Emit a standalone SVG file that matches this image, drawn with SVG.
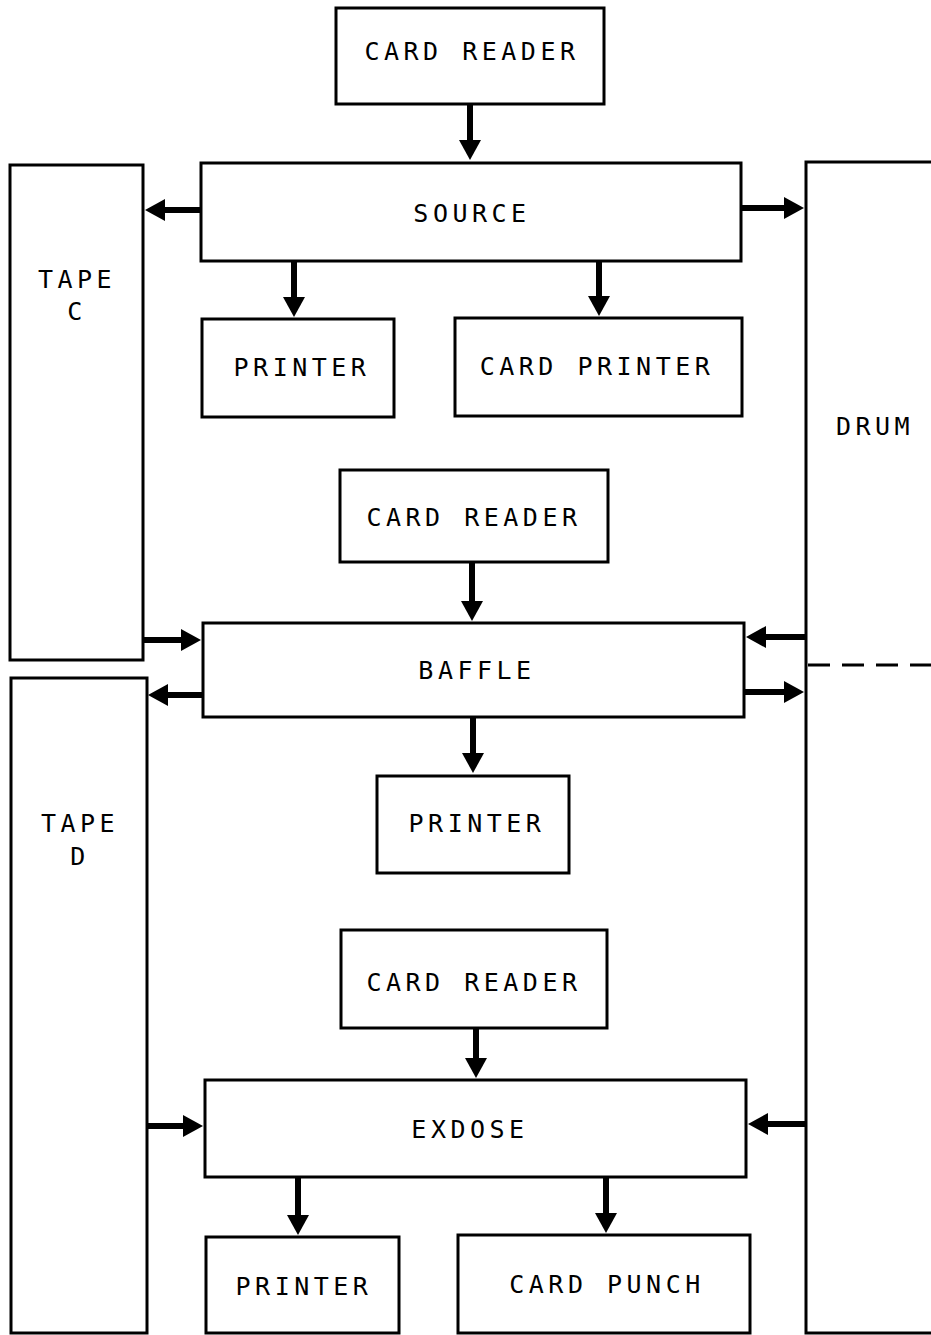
<svg xmlns="http://www.w3.org/2000/svg" width="931" height="1335" viewBox="0 0 931 1335">
<defs>
<style>
.box{fill:none;stroke:#000;stroke-width:3}
.lbl{font-family:"DejaVu Sans Mono","Liberation Mono",monospace;font-size:25px;letter-spacing:4.5px;fill:#000;text-anchor:middle}
.arr{stroke:#000;stroke-width:6;fill:none;marker-end:url(#ah)}
.dash{stroke:#000;stroke-width:3;stroke-dasharray:22,12;fill:none}
</style>
<marker id="ah" markerUnits="userSpaceOnUse" markerWidth="20" markerHeight="22" refX="1" refY="11" orient="auto" viewBox="0 0 20 22">
<path d="M0,0 L20,11 L0,22 z" fill="#000"/>
</marker>
</defs>
<rect width="931" height="1335" fill="#fff"/>
<g id="card-reader-1"><rect class="box" x="336" y="8" width="268" height="96"/><text class="lbl" x="472" y="60">CARD READER</text></g>
<g id="source"><rect class="box" x="201" y="163" width="540" height="98"/><text class="lbl" x="472" y="222">SOURCE</text></g>
<g id="tape-c"><rect class="box" x="10" y="165" width="133" height="495"/><text class="lbl" x="77" y="288">TAPE</text><text class="lbl" x="77" y="320">C</text></g>
<g id="drum"><rect class="box" x="806" y="162" width="140" height="1171"/><text class="lbl" x="875" y="435">DRUM</text></g>
<g id="printer-1"><rect class="box" x="202" y="319" width="192" height="98"/><text class="lbl" x="302" y="376">PRINTER</text></g>
<g id="card-printer"><rect class="box" x="455" y="318" width="287" height="98"/><text class="lbl" x="597" y="375">CARD PRINTER</text></g>
<g id="card-reader-2"><rect class="box" x="340" y="470" width="268" height="92"/><text class="lbl" x="474" y="526">CARD READER</text></g>
<g id="baffle"><rect class="box" x="203" y="623" width="541" height="94"/><text class="lbl" x="477" y="679">BAFFLE</text></g>
<g id="tape-d"><rect class="box" x="11" y="678" width="136" height="655"/><text class="lbl" x="80" y="832">TAPE</text><text class="lbl" x="80" y="865">D</text></g>
<g id="printer-2"><rect class="box" x="377" y="776" width="192" height="97"/><text class="lbl" x="477" y="832">PRINTER</text></g>
<g id="card-reader-3"><rect class="box" x="341" y="930" width="266" height="98"/><text class="lbl" x="474" y="991">CARD READER</text></g>
<g id="exdose"><rect class="box" x="205" y="1080" width="541" height="97"/><text class="lbl" x="470" y="1138">EXDOSE</text></g>
<g id="printer-3"><rect class="box" x="206" y="1237" width="193" height="96"/><text class="lbl" x="304" y="1295">PRINTER</text></g>
<g id="card-punch"><rect class="box" x="458" y="1235" width="292" height="98"/><text class="lbl" x="607" y="1293">CARD PUNCH</text></g>
<g id="connectors">
<line class="arr" x1="470" y1="104" x2="470" y2="141"/>
<line class="arr" x1="201" y1="210" x2="164" y2="210"/>
<line class="arr" x1="741" y1="208" x2="785" y2="208"/>
<line class="arr" x1="294" y1="261" x2="294" y2="298"/>
<line class="arr" x1="599" y1="261" x2="599" y2="297"/>
<line class="arr" x1="472" y1="562" x2="472" y2="602"/>
<line class="arr" x1="143" y1="640" x2="182" y2="640"/>
<line class="arr" x1="203" y1="695" x2="167" y2="695"/>
<line class="arr" x1="806" y1="637" x2="765" y2="637"/>
<line class="arr" x1="744" y1="692" x2="785" y2="692"/>
<line class="dash" x1="808" y1="665" x2="931" y2="665"/>
<line class="arr" x1="473" y1="717" x2="473" y2="754"/>
<line class="arr" x1="476" y1="1028" x2="476" y2="1059"/>
<line class="arr" x1="147" y1="1126" x2="184" y2="1126"/>
<line class="arr" x1="806" y1="1124" x2="767" y2="1124"/>
<line class="arr" x1="298" y1="1177" x2="298" y2="1216"/>
<line class="arr" x1="606" y1="1177" x2="606" y2="1214"/>
</g>
</svg>
